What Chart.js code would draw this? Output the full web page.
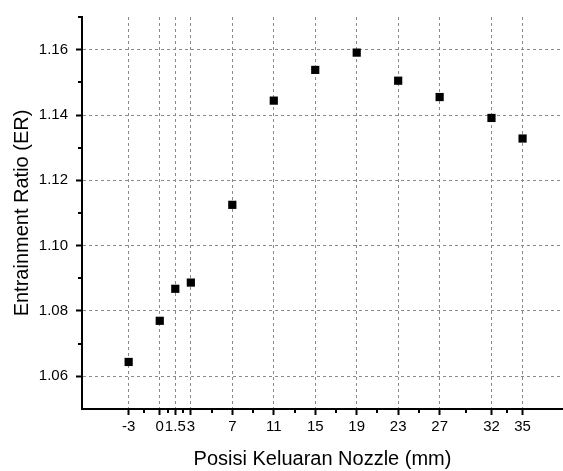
<!DOCTYPE html>
<html>
<head>
<meta charset="utf-8">
<script src="https://cdn.jsdelivr.net/npm/chart.js@4/dist/chart.umd.min.js"></script>
<style>
  body { margin: 0; background: #fff; }
  #wrap { width: 563px; height: 471px; }
</style>
</head>
<body>
<div id="wrap"><canvas id="erChart" width="563" height="471"></canvas></div>
<script>
// ===== data =====
const nozzlePos = [-3, 0, 1.5, 3, 7, 11, 15, 19, 23, 27, 32, 35];
const entrainRatio = [1.0644, 1.0770, 1.0868, 1.0887, 1.1125, 1.1444, 1.1538, 1.1591, 1.1505, 1.1455, 1.1391, 1.1328];

// axis ticks
const xMajorTicks = [-3, 0, 1.5, 3, 7, 11, 15, 19, 23, 27, 32, 35];
const xTickLabels = ["-3", "0", "1.5", "3", "7", "11", "15", "19", "23", "27", "32", "35"];
const xMinorTicks = [-1.5, 0.75, 2.25, 5, 9, 13, 17, 21, 25, 29.5, 33.5];
const yMajorTicks = [1.06, 1.08, 1.10, 1.12, 1.14, 1.16];
const yMinorTicks = [1.07, 1.09, 1.11, 1.13, 1.15, 1.17];

const FONT = "Arial, 'Liberation Sans', sans-serif";

// short minor ticks, Origin style
const minorTicks = {
  id: "minorTicks",
  afterDraw(chart) {
    const { ctx, scales: { x, y } } = chart;
    ctx.save();
    ctx.strokeStyle = "#000";
    ctx.lineWidth = 2;
    ctx.beginPath();
    xMinorTicks.forEach(v => {
      const px = Math.round(x.getPixelForValue(v));
      ctx.moveTo(px, x.top);
      ctx.lineTo(px, x.top + 4);
    });
    yMinorTicks.forEach(v => {
      const py = Math.round(y.getPixelForValue(v));
      ctx.moveTo(y.right, py);
      ctx.lineTo(y.right - 4, py);
    });
    ctx.stroke();
    ctx.restore();
  }
};

new Chart(document.getElementById("erChart"), {
  type: "scatter",
  data: {
    datasets: [{
      data: nozzlePos.map((v, i) => ({ x: v, y: entrainRatio[i] })),
      pointStyle: "rect",
      pointRadius: 5.8,
      pointHoverRadius: 5.8,
      backgroundColor: "#000",
      borderWidth: 0
    }]
  },
  options: {
    responsive: false,
    animation: false,
    events: [],
    layout: { autoPadding: false, padding: { top: 12, left: 0, right: 0, bottom: 0 } },
    plugins: { legend: { display: false }, tooltip: { enabled: false } },
    scales: {
      x: {
        type: "linear",
        min: -7.5,
        max: 38.9,
        afterBuildTicks: s => { s.ticks = xMajorTicks.map(v => ({ value: v })); },
        afterFit: s => { s.height = 62; },
        ticks: {
          autoSkip: false,
          maxRotation: 0,
          padding: 3,
          color: "#000",
          font: { family: FONT, size: 15 },
          callback: (v, i) => xTickLabels[i]
        },
        grid: {
          color: "#8a8a8a",
          lineWidth: 1,
          tickLength: 6,
          tickColor: "#000",
          tickWidth: 2
        },
        border: { color: "#000", width: 2, dash: [3, 3] },
        title: {
          display: true,
          text: "Posisi Keluaran Nozzle (mm)",
          color: "#000",
          font: { family: FONT, size: 20 },
          padding: { top: 0, bottom: 0 }
        }
      },
      y: {
        type: "linear",
        min: 1.05,
        max: 1.17,
        afterBuildTicks: s => { s.ticks = yMajorTicks.map(v => ({ value: v })); },
        afterFit: s => { s.width = 82; },
        ticks: {
          padding: 8,
          color: "#000",
          font: { family: FONT, size: 15 },
          callback: v => v.toFixed(2)
        },
        grid: {
          color: "#8a8a8a",
          lineWidth: 1,
          tickLength: 6,
          tickColor: "#000",
          tickWidth: 2
        },
        border: { color: "#000", width: 2, dash: [3, 3] },
        title: {
          display: true,
          text: "Entrainment Ratio (ER)",
          color: "#000",
          font: { family: FONT, size: 20 },
          padding: { top: 10, bottom: 0 }
        }
      }
    }
  },
  plugins: [minorTicks]
});
</script>
</body>
</html>
